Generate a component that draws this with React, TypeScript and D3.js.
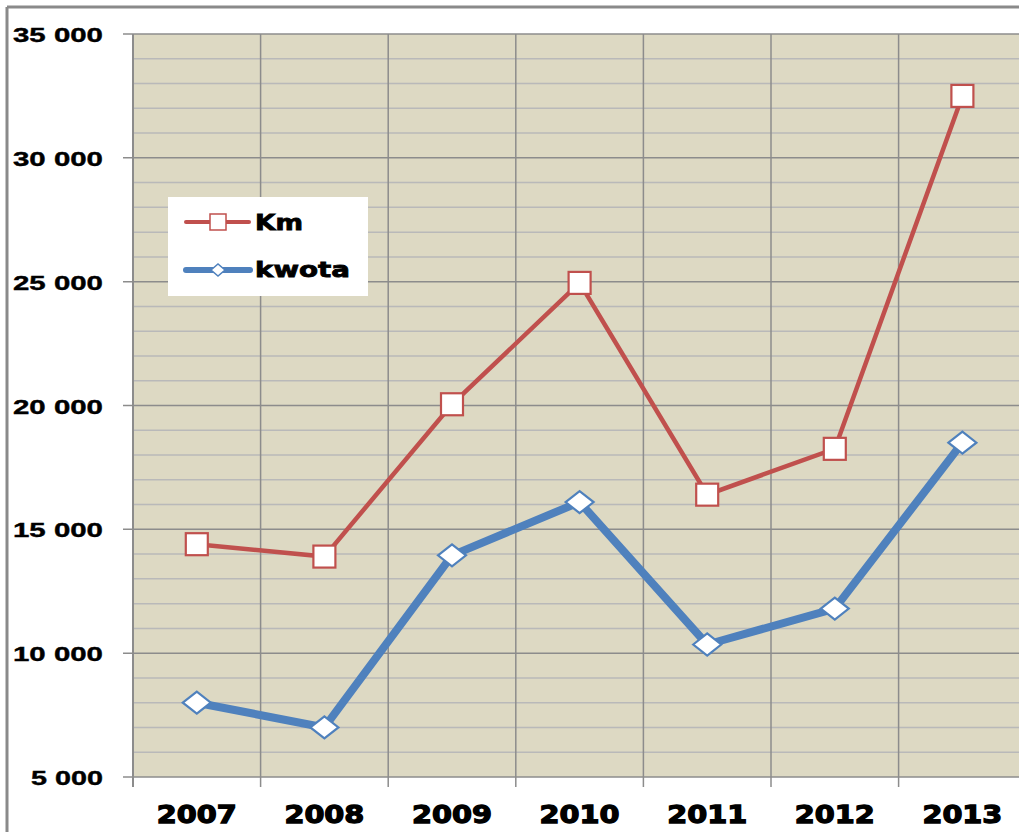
import React, { useLayoutEffect, useRef } from "react";
import * as d3 from "d3";

// chart data
const years = ["2007", "2008", "2009", "2010", "2011", "2012", "2013"];
const kmValues = [14400, 13900, 20050, 24950, 16400, 18250, 32500];
const kwotaValues = [8000, 7000, 13950, 16100, 10350, 11800, 18500];
const yTicks = [5000, 10000, 15000, 20000, 25000, 30000, 35000];
const yMinorTicks = d3.range(5000, 35001, 1000);

const RED = "#C0504D";
const BLUE = "#4F81BD";
const FONT = "'DejaVu Sans', 'Liberation Sans', sans-serif";
const ARIAL = "'Liberation Sans', Arial, sans-serif";

const fmt = (v: number) => d3.format(",")(v).replace(",", " ");

// text stretched horizontally to a given width (the source image is stretched)
function WideText({ x, y, width, anchor = "start", size, weight = 0.6, font = FONT, children }: any) {
  const ref = useRef<SVGTextElement>(null);
  useLayoutEffect(() => {
    const el = ref.current;
    if (!el) return;
    const len = el.getComputedTextLength();
    const sx = len > 0 ? width / len : 1;
    const x0 = anchor === "end" ? x - width : x;
    el.setAttribute("transform", `translate(${x0},${y}) scale(${sx},1)`);
  }, [x, y, width, anchor, children]);
  return (
    <text
      ref={ref}
      x={0}
      y={0}
      fontFamily={font}
      fontWeight="bold"
      fontSize={size}
      fill="#000"
      stroke="#000"
      strokeWidth={weight}
    >
      {children}
    </text>
  );
}

export default function App() {
  const W = 1019;
  const H = 832;
  const plot = { left: 133, top: 34, bottom: 777, right: 133 + 7 * 127.6 };

  const x = d3.scaleBand<string>().domain(years).range([plot.left, plot.right]);
  const y = d3.scaleLinear().domain([5000, 35000]).range([plot.bottom, plot.top]);
  const cx = (yr: string) => (x(yr) ?? 0) + x.bandwidth() / 2;

  const line = d3
    .line<number>()
    .x((_, i) => cx(years[i]))
    .y((d) => y(d));

  const diamond = (px: number, py: number, hw: number, hh: number) =>
    `M${px - hw},${py}L${px},${py - hh}L${px + hw},${py}L${px},${py + hh}Z`;

  return (
    <svg
      width={W}
      height={H}
      style={{ position: "absolute", left: 0, top: 0, background: "#fff" }}
    >
      {/* outer frame */}
      <line x1={7} y1={7} x2={W} y2={7} stroke="#8a8a8a" strokeWidth={3} />
      <line x1={7} y1={7} x2={7} y2={H} stroke="#8a8a8a" strokeWidth={3} />

      {/* plot background */}
      <rect
        x={plot.left}
        y={plot.top}
        width={plot.right - plot.left}
        height={plot.bottom - plot.top}
        fill="#DDD9C3"
      />

      {/* minor gridlines */}
      {yMinorTicks
        .filter((v) => v % 5000 !== 0)
        .map((v) => (
          <line
            key={"m" + v}
            x1={plot.left}
            x2={plot.right}
            y1={y(v)}
            y2={y(v)}
            stroke="#b9b9b9"
            strokeWidth={1.5}
          />
        ))}

      {/* major gridlines + y ticks */}
      {yTicks.map((v) => (
        <g key={"t" + v}>
          <line
            x1={plot.left - 10}
            x2={plot.right}
            y1={y(v)}
            y2={y(v)}
            stroke="#8c8c8c"
            strokeWidth={1.5}
          />
          <WideText
            x={103}
            y={y(v) + 8}
            width={v >= 10000 ? 90 : 72}
            anchor="end"
            size={21}
            weight={0.4}
            font={ARIAL}
          >
            {fmt(v)}
          </WideText>
        </g>
      ))}

      {/* vertical gridlines + x ticks */}
      {years.map((yr) => (
        <line
          key={"v" + yr}
          x1={x(yr)}
          x2={x(yr)}
          y1={plot.top}
          y2={plot.bottom + 10}
          stroke="#8c8c8c"
          strokeWidth={1.5}
        />
      ))}
      <line
        x1={plot.left}
        x2={plot.left}
        y1={plot.top}
        y2={plot.bottom + 10}
        stroke="#8c8c8c"
        strokeWidth={2}
      />

      {/* x labels */}
      {years.map((yr) => (
        <WideText key={"x" + yr} x={cx(yr) - 40} y={823} width={80} size={25} weight={1.3}>
          {yr}
        </WideText>
      ))}

      {/* Km series */}
      <path d={line(kmValues) ?? ""} fill="none" stroke={RED} strokeWidth={4.5} />
      {kmValues.map((v, i) => (
        <rect
          key={"k" + i}
          x={cx(years[i]) - 11}
          y={y(v) - 11}
          width={22}
          height={22}
          fill="#fff"
          stroke={RED}
          strokeWidth={2.2}
        />
      ))}

      {/* kwota series */}
      <path
        d={line(kwotaValues) ?? ""}
        fill="none"
        stroke={BLUE}
        strokeWidth={8}
        strokeLinejoin="round"
      />
      {kwotaValues.map((v, i) => (
        <path
          key={"w" + i}
          d={diamond(cx(years[i]), y(v), 14, 11)}
          fill="#fff"
          stroke={BLUE}
          strokeWidth={2.2}
        />
      ))}

      {/* legend */}
      <rect x={168} y={197} width={200} height={99} fill="#fff" />
      <line x1={186} x2={249} y1={222} y2={222} stroke={RED} strokeWidth={4} strokeLinecap="round" />
      <rect x={210} y={214} width={16} height={16} fill="#fff" stroke={RED} strokeWidth={1.5} />
      <WideText x={255} y={230} width={48} size={21} weight={0.8}>
        Km
      </WideText>
      <line x1={186} x2={250} y1={270} y2={270} stroke={BLUE} strokeWidth={6} strokeLinecap="round" />
      <path d={diamond(218, 270, 7, 6)} fill="#fff" stroke={BLUE} strokeWidth={1.5} />
      <WideText x={255} y={277} width={95} size={21} weight={0.8}>
        kwota
      </WideText>
    </svg>
  );
}
